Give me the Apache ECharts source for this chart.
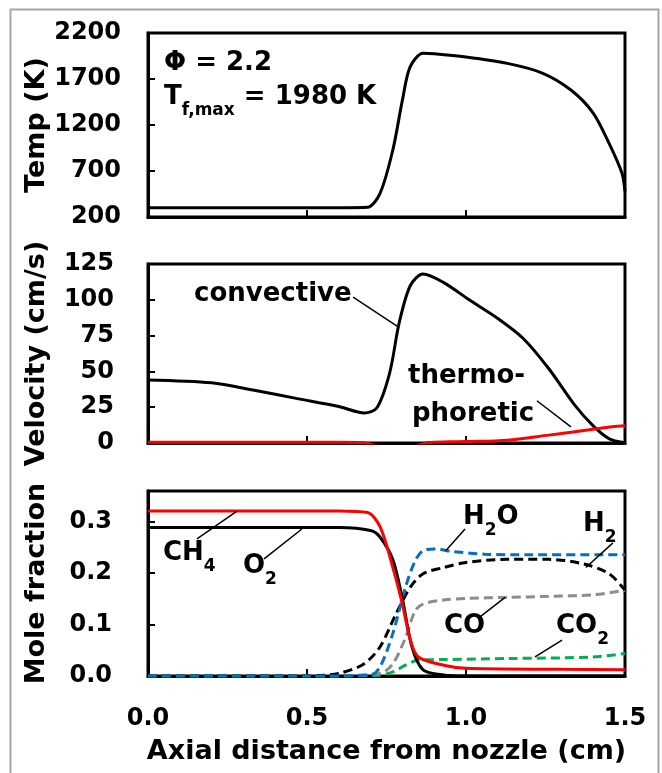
<!DOCTYPE html>
<html>
<head>
<meta charset="utf-8">
<script src="https://cdn.jsdelivr.net/npm/echarts@6/dist/echarts.min.js"></script>
<style>
  html, body { margin: 0; padding: 0; background: #fff; }
  #chart { width: 662px; height: 773px; }
</style>
</head>
<body>
<div id="chart"></div>
<script>
// axial position (cm) + values
const tempX = [0, 0.3, 0.6, 0.69, 0.73, 0.77, 0.8, 0.824, 0.865, 0.9, 1.0, 1.13, 1.24, 1.33, 1.4, 1.45, 1.49, 1.5];
const tempY = [300, 300, 300, 305, 460, 930, 1470, 1830, 1980, 1975, 1940, 1870, 1765, 1580, 1330, 1000, 680, 480];

const convX = [0, 0.2, 0.33, 0.47, 0.6, 0.68, 0.72, 0.76, 0.79, 0.825, 0.865, 0.93, 1.01, 1.1, 1.18, 1.26, 1.34, 1.4, 1.45, 1.49, 1.5];
const convY = [44, 42, 37, 31, 25.5, 21, 24.6, 49, 84, 110, 118, 112, 100, 87, 73, 52, 27, 12, 3, 0.5, 0];

const thermoX = [0, 0.3, 0.6, 0.68, 0.72, 0.8, 0.86, 0.88, 0.95, 1.0, 1.13, 1.26, 1.33, 1.4, 1.46, 1.5];
const thermoY = [0.5, 0.5, 0.5, 0.2, -2, -4, -1, 0.3, 0.8, 1, 2, 5.5, 7.5, 9.6, 11.3, 12];

const ch4X = [0, 0.3, 0.6, 0.69, 0.73, 0.77, 0.8, 0.825, 0.85, 0.93, 1.0, 1.3, 1.5];
const ch4Y = [0.321, 0.321, 0.321, 0.318, 0.29, 0.211, 0.14, 0.07, 0.037, 0.021, 0.015, 0.013, 0.012];

const o2X = [0, 0.3, 0.6, 0.7, 0.73, 0.77, 0.8, 0.83, 0.865, 0.93, 1.0, 1.5];
const o2Y = [0.289, 0.289, 0.289, 0.283, 0.27, 0.226, 0.15, 0.057, 0.012, 0.002, 0, 0];

const h2oX = [0, 0.5, 0.7, 0.73, 0.77, 0.81, 0.84, 0.865, 0.9, 0.96, 1.06, 1.2, 1.5];
const h2oY = [0, 0, 0.002, 0.018, 0.083, 0.173, 0.224, 0.244, 0.247, 0.242, 0.237, 0.236, 0.236];

const h2X = [0, 0.5, 0.6, 0.68, 0.73, 0.78, 0.825, 0.865, 0.93, 1.0, 1.13, 1.26, 1.37, 1.45, 1.5];
const h2Y = [0, 0, 0.005, 0.024, 0.057, 0.121, 0.173, 0.199, 0.211, 0.221, 0.227, 0.227, 0.218, 0.199, 0.167];

const coX = [0, 0.5, 0.73, 0.77, 0.81, 0.84, 0.865, 0.93, 1.0, 1.13, 1.26, 1.4, 1.5];
const coY = [0, 0, 0.005, 0.024, 0.075, 0.127, 0.14, 0.148, 0.151, 0.153, 0.155, 0.158, 0.167];

const co2X = [0, 0.5, 0.72, 0.77, 0.81, 0.85, 0.93, 1.13, 1.4, 1.5];
const co2Y = [0, 0, 0.001, 0.008, 0.021, 0.031, 0.032, 0.034, 0.037, 0.044];

const FONT = 'DejaVu Sans';
const pairs = (xs, ys) => xs.map((x, i) => [x, ys[i]]);

const chart = echarts.init(document.getElementById('chart'), null, { renderer: 'canvas' });

function xAx(idx, withLabels) {
  return {
    type: 'value', gridIndex: idx, min: 0, max: 1.5, interval: 0.5,
    axisLine: { show: true, onZero: false, lineStyle: { color: '#000', width: 3 } },
    axisTick: { show: true, inside: true, length: 7, lineStyle: { color: '#000', width: 2 } },
    splitLine: { show: false },
    axisLabel: {
      show: withLabels, margin: 31, color: '#000', fontFamily: FONT, fontWeight: 'bold', fontSize: 24,
      formatter: v => v.toFixed(1)
    },
    name: withLabels ? 'Axial distance from nozzle (cm)' : '',
    nameLocation: 'middle', nameGap: 62, nameMoveOverlap: false,
    nameTextStyle: { color: '#000', fontFamily: FONT, fontWeight: 'bold', fontSize: 27 }
  };
}

function yAx(idx, o) {
  return Object.assign({
    type: 'value', gridIndex: idx,
    axisLine: { show: true, onZero: false, lineStyle: { color: '#000', width: 3 } },
    axisTick: { show: true, inside: true, length: 7, lineStyle: { color: '#000', width: 2 } },
    splitLine: { show: false },
    nameLocation: 'middle', nameGap: 98, nameMoveOverlap: false,
    nameTextStyle: { color: '#000', fontFamily: FONT, fontWeight: 'bold', fontSize: 27 }
  }, o);
}

const lbl = (margin, fmt) => ({ margin: margin, color: '#000', fontFamily: FONT, fontWeight: 'bold', fontSize: 24,
  formatter: fmt || (v => String(v)) });

const leader = (segs) => ({
  silent: true, symbol: 'none', animation: false,
  label: { show: false },
  lineStyle: { color: '#000', width: 1.5, type: 'solid' },
  data: segs.map(s => [{ coord: s[0] }, { coord: s[1] }])
});

function line(name, xi, data, color, dashed, extra) {
  return Object.assign({
    name: name, type: 'line', xAxisIndex: xi, yAxisIndex: xi,
    data: data, showSymbol: false, smooth: 0.3,
    lineStyle: { color: color, width: 3, type: dashed ? [9, 5] : 'solid' },
    itemStyle: { color: color }
  }, extra || {});
}

const rich = {
  m: { fontFamily: FONT, fontWeight: 'bold', fontSize: 26, lineHeight: 30, verticalAlign: 'top', fill: '#000', color: '#000' },
  s: { fontFamily: FONT, fontWeight: 'bold', fontSize: 17, lineHeight: 17, verticalAlign: 'top', padding: [18, 0, 0, 0], fill: '#000', color: '#000' }
};
const tag = (x, y, txt) => ({
  type: 'text', left: x, top: y, silent: true,
  style: { text: txt, rich: rich, fill: '#000', font: 'bold 26px ' + FONT }
});

const option = {
  animation: false,
  backgroundColor: '#fff',
  grid: [
    { left: 148, width: 477, top: 33, height: 184, show: true, borderColor: '#000', borderWidth: 3 },
    { left: 148, width: 477, top: 264, height: 179, show: true, borderColor: '#000', borderWidth: 3 },
    { left: 148, width: 477, top: 491, height: 185, show: true, borderColor: '#000', borderWidth: 3 }
  ],
  xAxis: [xAx(0, false), xAx(1, false), xAx(2, true)],
  yAxis: [
    yAx(0, { min: 200, max: 2200, interval: 500, name: 'Temp (K)', axisLabel: lbl(27) }),
    yAx(1, { min: 0, max: 125, interval: 25, name: 'Velocity (cm/s)', axisLabel: lbl(34) }),
    yAx(2, { min: 0, max: 0.36, interval: 0.1, name: 'Mole fraction',
      axisLabel: lbl(36, v => Math.abs(v * 10 - Math.round(v * 10)) < 1e-6 ? v.toFixed(1) : '') })
  ],
  series: [
    line('Temp', 0, pairs(tempX, tempY), '#000', false),
    line('convective', 1, pairs(convX, convY), '#000', false, {
      markLine: leader([[[0.645, 101.8], [0.789, 80.7]], [[1.223, 29.5], [1.33, 11.2]]])
    }),
    line('thermophoretic', 1, pairs(thermoX, thermoY), '#ff0000', false),
    line('CO2', 2, pairs(co2X, co2Y), '#00b050', true),
    line('CO', 2, pairs(coX, coY), '#8c8c8c', true),
    line('H2', 2, pairs(h2X, h2Y), '#000', true),
    line('H2O', 2, pairs(h2oX, h2oY), '#0070c0', true),
    line('O2', 2, pairs(o2X, o2Y), '#000', false),
    line('CH4', 2, pairs(ch4X, ch4Y), '#ff0000', false, {
      markLine: leader([
        [[0.154, 0.267], [0.28, 0.321]],
        [[0.365, 0.228], [0.484, 0.286]],
        [[0.997, 0.286], [0.937, 0.244]],
        [[1.462, 0.259], [1.377, 0.211]],
        [[1.038, 0.112], [1.123, 0.153]],
        [[1.302, 0.07], [1.217, 0.037]]
      ])
    })
  ],
  graphic: [
    { type: 'rect', left: 8, top: 7, silent: true, shape: { width: 648, height: 800 },
      style: { fill: 'none', stroke: '#a6a6a6', lineWidth: 2 } },
    tag(164, 50, '{m|Φ = 2.2}'),
    tag(164, 84, '{m|T}{s|f,max}{m| = 1980 K}'),
    tag(194, 281, '{m|convective}'),
    tag(408, 363, '{m|thermo-}'),
    tag(412, 401, '{m|phoretic}'),
    tag(163, 540, '{m|CH}{s|4}'),
    tag(243, 553, '{m|O}{s|2}'),
    tag(463, 504, '{m|H}{s|2}{m|O}'),
    tag(583, 511, '{m|H}{s|2}'),
    tag(444, 613, '{m|CO}'),
    tag(556, 613, '{m|CO}{s|2}')
  ]
};

chart.setOption(option);
</script>
</body>
</html>
